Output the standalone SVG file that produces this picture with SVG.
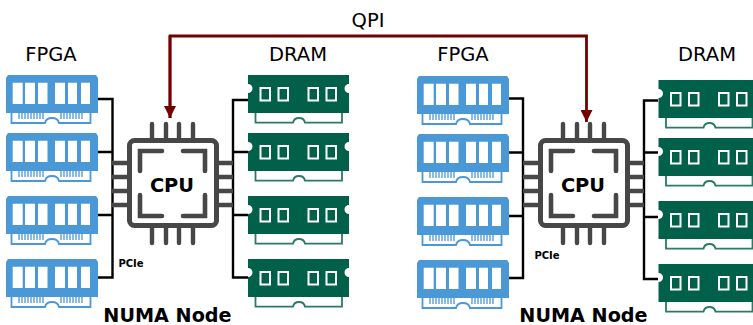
<svg xmlns="http://www.w3.org/2000/svg" width="753" height="325" viewBox="0 0 753 325">
<style>
text{font-family:"DejaVu Sans",sans-serif;fill:#000;text-anchor:middle}
.t{font-size:19.500px}
.b{font-weight:700}
.bus{fill:none;stroke:#000;stroke-width:2.4}
.qpi{fill:none;stroke:#730000;stroke-width:2.8}
.pin{fill:none;stroke:#474747;stroke-width:4.4;stroke-linecap:round}
.body{fill:#fff;stroke:#474747;stroke-width:5}
.br{fill:none;stroke:#474747;stroke-width:4.6;stroke-linecap:round;stroke-linejoin:miter}
.tooth{stroke:#4a98d6;stroke-width:1.3;fill:none}
</style>
<defs>
<marker id="ah" markerUnits="userSpaceOnUse" markerWidth="12" markerHeight="12" refX="12" refY="6" orient="auto" viewBox="0 0 12 12"><path d="M12 6L0 0V12Z" fill="#730000"/></marker>
<symbol id="fpga" width="94" height="50" viewBox="0 0 94 50" overflow="visible">
<path d="M2 0H90L92 3V38H0V3Z" fill="#4a98d6"/>
<path d="M6.700 7.700H16.700V29H6.700ZM19 7.700H29V29H19ZM32 7.700H41.500V29H32ZM49 7.700H59V29H49ZM62 7.700H71V29H62ZM75 7.700H84V29H75Z" fill="#fff"/>
<path d="M5.500 38V48H39Q40 43 46 43Q52 43 53 48H84.500V38" fill="#fff" stroke="#4a98d6" stroke-width="1.800"/>
<path class="tooth" d="M13 38V44M16 38V44M19 38V44M22 38V44M25 38V44M28 38V44M31 38V44M34 38V44M37 38V44M55 38V44M58 38V44M61 38V44M64 38V44M67 38V44M70 38V44M73 38V44M76 38V44"/>
</symbol>
<symbol id="dram" width="103" height="50" viewBox="0 0 103 50" overflow="visible">
<path d="M0 0H101V9A4 4 0 0 0 101 18V38H0V18A4 4 0 0 0 0 9Z" fill="#00604a"/>
<path d="M7.500 38V47.700H45Q46 43 51 43Q56 43 57 47.700H94V38" fill="#fff" stroke="#2a7a66" stroke-width="1.800"/>
<g fill="none" stroke="#fff" stroke-width="2"><rect x="12.500" y="13" width="9.500" height="12.500"/><rect x="30.500" y="13" width="9.500" height="12.500"/><rect x="60.500" y="13" width="9.500" height="12.500"/><rect x="78.500" y="13" width="9.500" height="12.500"/></g>
</symbol>
<symbol id="chip" width="125" height="125" viewBox="0 0 125 125" overflow="visible">
<path class="pin" d="M40 2V16M54 2V16M67 2V16M81 2V16M40 106V121M54 106V121M67 106V121M81 106V121"/>
<path class="pin" style="stroke-linecap:butt" d="M0 41H16M0 55H16M0 69H16M0 83H16M107 41H121M107 55H121M107 69H121M107 83H121"/>
<rect class="body" x="17.500" y="18.500" width="87" height="85" rx="5"/>
<path class="br" d="M50 29H28V49M71 29H93V49M50 94H28V73M71 94H93V73"/>
</symbol>
</defs>
<g id="connectors">
<path class="bus" d="M98 99H112.500V277.500H98M98 152H112.500M98 215H112.500"/>
<path class="bus" d="M248 100H233V277.500H248M233 152H248M233 215H248"/>
<path class="bus" d="M509 98.500H523V278H509M509 152.500H523M509 216H523"/>
<path class="bus" d="M658 100.500H644V279H658M644 152.500H658M644 217H658"/>
<path class="qpi" d="M170 118V36H586.500V122" marker-end="url(#ah)"/>
<path class="qpi" d="M170 36V118" marker-end="url(#ah)"/>
</g>
<g id="numa1-fpga1"><use href="#fpga" x="6" y="75"/></g>
<g id="numa1-fpga2"><use href="#fpga" x="6" y="133"/></g>
<g id="numa1-fpga3"><use href="#fpga" x="6" y="196"/></g>
<g id="numa1-fpga4"><use href="#fpga" x="6" y="259"/></g>
<g id="numa1-dram1"><use href="#dram" x="248" y="75"/></g>
<g id="numa1-dram2"><use href="#dram" x="248" y="133"/></g>
<g id="numa1-dram3"><use href="#dram" x="248" y="196"/></g>
<g id="numa1-dram4"><use href="#dram" x="248" y="259"/></g>
<g id="numa1-cpu"><use href="#chip" x="112" y="122"/><text class="b" x="172" y="192" font-size="19.400">CPU</text></g>
<g id="numa2-fpga1"><use href="#fpga" x="417" y="76"/></g>
<g id="numa2-fpga2"><use href="#fpga" x="417" y="134"/></g>
<g id="numa2-fpga3"><use href="#fpga" x="417" y="197"/></g>
<g id="numa2-fpga4"><use href="#fpga" x="417" y="260"/></g>
<g id="numa2-dram1"><use href="#dram" x="658.500" y="80"/></g>
<g id="numa2-dram2"><use href="#dram" x="658.500" y="138"/></g>
<g id="numa2-dram3"><use href="#dram" x="658.500" y="201"/></g>
<g id="numa2-dram4"><use href="#dram" x="658.500" y="264"/></g>
<g id="numa2-cpu"><use href="#chip" x="523" y="122"/><text class="b" x="583" y="192" font-size="19.400">CPU</text></g>
<g id="labels">
<text class="t" x="368" y="26.700">QPI</text>
<text class="t" x="51" y="61">FPGA</text>
<text class="t" x="298" y="61">DRAM</text>
<text class="t" x="463" y="61">FPGA</text>
<text class="t" x="707" y="61">DRAM</text>
<text class="b" x="131" y="267" font-size="10">PCIe</text>
<text class="b" x="547" y="258.500" font-size="10">PCIe</text>
<text class="b" x="167.500" y="322" font-size="19.200">NUMA Node</text>
<text class="b" x="583.500" y="322" font-size="19.200">NUMA Node</text>
</g>
</svg>
